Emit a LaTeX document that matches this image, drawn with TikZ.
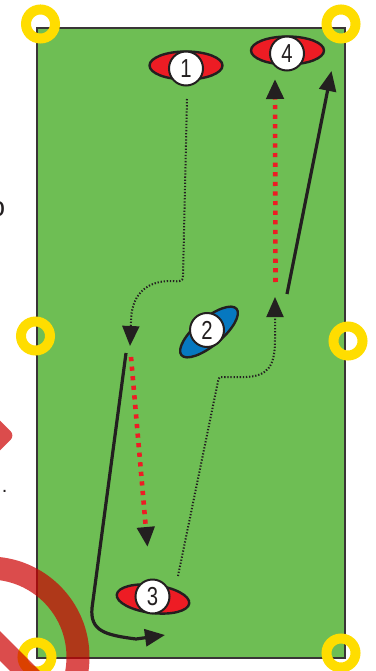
\documentclass[tikz,border=0pt]{standalone}
\usepackage{fontspec}
\setmainfont{Liberation Sans}
\usetikzlibrary{shapes.geometric,arrows.meta}
\definecolor{pitch}{RGB}{110,190,84}
\definecolor{cone}{RGB}{255,221,0}
\definecolor{pred}{RGB}{237,28,36}
\definecolor{pblue}{RGB}{6,120,192}
\definecolor{ink}{RGB}{35,31,32}
\definecolor{nored}{RGB}{204,0,0}
\tikzset{
  marker/.style={draw=cone,line width=10pt},
  redcone/.style={ellipse,draw=ink,fill=pred,line width=2.4pt,minimum width=73pt,minimum height=28pt,inner sep=0pt},
  bluecone/.style={ellipse,draw=ink,fill=pblue,line width=2.4pt,minimum width=72pt,minimum height=27pt,inner sep=0pt},
  disc/.style={circle,draw=ink,fill=white,line width=2pt,minimum size=34pt,inner sep=0pt,text=ink,font=\fontsize{26}{26}\selectfont},
  bigtip/.style={-{Triangle[length=20pt,width=17pt,color=ink]}},
  rundot/.style={draw=ink,line width=2pt,dash pattern=on 1.3pt off 1.8pt,bigtip},
  passline/.style={draw=pred,line width=4.6pt,dash pattern=on 4.2pt off 5.4pt,bigtip},
  runline/.style={draw=ink,line width=3.2pt,bigtip,line join=round},
}
\newcommand{\digit}[1]{\scalebox{0.78}[1]{#1}}
\begin{document}
\begin{tikzpicture}[x=1pt,y=-1pt]
\useasboundingbox (0,0) rectangle (375,671);
\begin{scope}
\clip (0,0) rectangle (375,671);
% pitch
\path[fill=pitch,draw=ink!90,line width=1.6pt] (37,28) rectangle (345,658);
% markers
\draw[marker] (40.5,24) circle (14.5pt);
\draw[marker] (341,24) circle (14.5pt);
\draw[marker] (35.5,336) circle (14.5pt);
\draw[marker] (348,341) circle (14.5pt);
\draw[marker] (37,657) circle (14.5pt);
\draw[marker] (341,653) circle (14.5pt);
% named points
\coordinate (a1) at (187,99);
\coordinate (a1t) at (130,346);
\coordinate (b1) at (131,357);
\coordinate (b1t) at (147.5,547);
\coordinate (c1) at (126,353);
\coordinate (c1t) at (165,635);
\coordinate (d1) at (178,576);
\coordinate (d1t) at (275,297);
\coordinate (e1) at (275.5,282);
\coordinate (e1t) at (275,79);
\coordinate (f1) at (287,294);
\coordinate (f1t) at (331.5,71);
% runs and passes
\draw[rundot] (a1) -- (183,276) .. controls (183,283) and (178,281) .. (168,281)
   .. controls (145,282) and (131,296) .. (131,322) -- (a1t);
\draw[passline] (b1) -- (b1t);
\draw[runline] (c1) -- (92,608) .. controls (90,631) and (105,635) .. (136,639) -- (c1t);
\draw[rundot] (d1) -- (218.5,379) .. controls (219,377) and (220,377) .. (224,377)
   -- (246,377) .. controls (268,376) and (275,366) .. (275,340) -- (d1t);
\draw[passline] (e1) -- (e1t);
\draw[runline] (f1) -- (f1t);
% players
\node[redcone] (p1c) at (186,65.5) {};
\node[disc] (p1) at (186,68.5) {\digit{1}};
\node[redcone] (p4c) at (287.5,50.5) {};
\node[disc] (p4) at (287,53.5) {\digit{4}};
\node[bluecone,rotate=40] (p2c) at (209,332) {};
\node[disc] (p2) at (207,330) {\digit{2}};
\node[redcone,rotate=-7] (p3c) at (153,599) {};
\node[disc] (p3) at (152.5,596.5) {\digit{3}};
% cropped fragments at the left edge
\node[anchor=east,inner sep=0pt,text=ink,font=\fontsize{28}{28}\selectfont] (frag1) at (5.5,209) {o};
\node[anchor=south,inner sep=0pt,text=ink,font=\fontsize{20}{20}\selectfont] (frag2) at (4.7,492.5) {.};
\begin{scope}[opacity=0.7]
  \fill[nored,rounded corners=6pt,rotate around={45:(-12,435.5)}] (-31,416.5) rectangle (7,454.5);
  \draw[nored,line width=23pt] (-11,657) circle (89pt);
  \draw[nored,line width=21pt] (-60,586) -- (60,706);
\end{scope}
\end{scope}
\end{tikzpicture}
\end{document}
